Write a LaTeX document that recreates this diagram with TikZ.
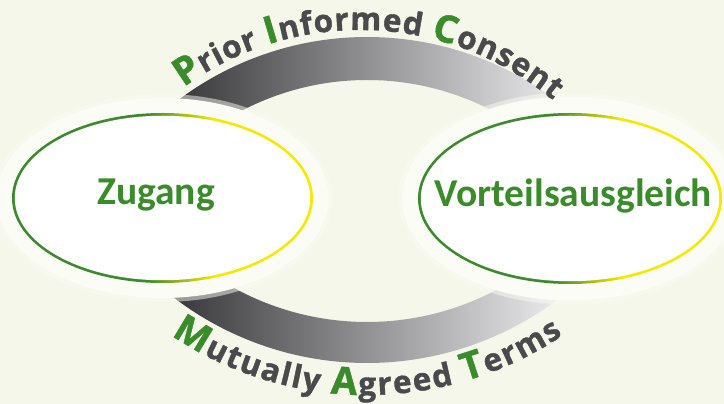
\documentclass[tikz,border=0pt]{standalone}
\usepackage{fontspec}
\usetikzlibrary{decorations.text,shapes.geometric}
\newfontfamily\arcfamily{Open Sans}[BoldFeatures={FakeBold=1.2}]
\newfontfamily\ovalfamily{Carlito}
\definecolor{bgcol}{HTML}{F4F7EA}
\definecolor{glowcol}{HTML}{FAFCF5}
\definecolor{leafgreen}{HTML}{3A8C2A}
\definecolor{ringgreen}{HTML}{3C8A2C}
\definecolor{ringyellow}{HTML}{F7E800}
\definecolor{textgray}{HTML}{4A4A4D}
\definecolor{bandL}{HTML}{3A3A3C}
\definecolor{bandR}{HTML}{E8E8EA}
\newcommand\PICcap{\arcfamily\bfseries\fontsize{38}{42}\selectfont\color{leafgreen}}
\newcommand\PIClow{\arcfamily\bfseries\fontsize{31.5}{34}\selectfont\color{textgray}}
\begin{document}
\begin{tikzpicture}[x=1pt,y=1pt,
  ovaltext/.style={font=\ovalfamily\bfseries\fontsize{39.5}{42}\selectfont, text=leafgreen, anchor=base, inner sep=0pt},
  ovalnode/.style={ellipse, fill=white, inner sep=0pt},
  glowfill/.style={fill=glowcol}]
\useasboundingbox (0,0) rectangle (724,404);
\fill[bgcol] (0,0) rectangle (724,404);
% centres
\coordinate (tc) at (367,53);
\coordinate (bc) at (367,359);
% top band
\begin{scope}
\clip (tc) ++(145:314) arc[start angle=145,end angle=35,radius=314]
  -- ([shift={(35:271)}]tc) arc[start angle=35,end angle=145,radius=271] -- cycle;
\fill[bandL] (0,0) rectangle (181,404);
\shade[left color=bandL,right color=bandR] (180,0) rectangle (556,404);
\fill[bandR] (555,0) rectangle (724,404);
\end{scope}
% bottom band
\begin{scope}
\clip (bc) ++(215:318) arc[start angle=215,end angle=325,radius=318]
  -- ([shift={(325:277)}]bc) arc[start angle=325,end angle=215,radius=277] -- cycle;
\fill[bandL] (0,0) rectangle (178,404);
\shade[left color=bandL,right color=bandR] (177,0) rectangle (554,404);
\fill[bandR] (553,0) rectangle (724,404);
\end{scope}
% glows
\fill[glowfill,opacity=0.5] (162.5,206) ellipse [x radius=170, y radius=104];
\fill[glowfill] (162.5,206) ellipse [x radius=166, y radius=100];
\fill[glowfill,opacity=0.5] (570,205.5) ellipse [x radius=172, y radius=106];
\fill[glowfill] (570,205.5) ellipse [x radius=168, y radius=102];
% rings
\begin{scope}
\clip (162.5,206) ellipse [x radius=150.5, y radius=85];
\fill[ringgreen] (0,100) rectangle (148,320);
\shade[left color=ringgreen,right color=ringyellow] (147.5,100) rectangle (214,320);
\fill[ringyellow] (213.5,100) rectangle (330,320);
\end{scope}
\begin{scope}
\clip (570,205.5) ellipse [x radius=152, y radius=85.5];
\fill[ringgreen] (400,100) rectangle (555,320);
\shade[left color=ringgreen,right color=ringyellow] (554.5,100) rectangle (622,320);
\fill[ringyellow] (621.5,100) rectangle (724,320);
\end{scope}
\node[ovalnode, minimum width=295.5pt, minimum height=164.5pt] (zugang) at (162.5,206) {};
\node[ovalnode, minimum width=298.5pt, minimum height=165.5pt] (vorteil) at (570,205.5) {};
\node[ovaltext] (zugangtext) at (156,199) {Zugang};
\node[ovaltext] (vorteiltext) at (573.5,197) {Vorteilsausgleich};
% arc texts
\path[decorate, decoration={text along path, text align={fit to path},
  text={|\PICcap|P|\PIClow|rior |\PICcap|I|\PIClow|nformed |\PICcap|C|\PIClow|onsent}}]
  (360,74) ++(126:300) arc[start angle=126,end angle=50,radius=300];
\path[decorate, decoration={text along path, text align={fit to path},
  text={|\PICcap|M|\PIClow|utually |\PICcap|A|\PIClow|greed |\PICcap|T|\PIClow|erms}}]
  (367,359) ++(236:350) arc[start angle=236,end angle=304,radius=350];
\end{tikzpicture}
\end{document}
